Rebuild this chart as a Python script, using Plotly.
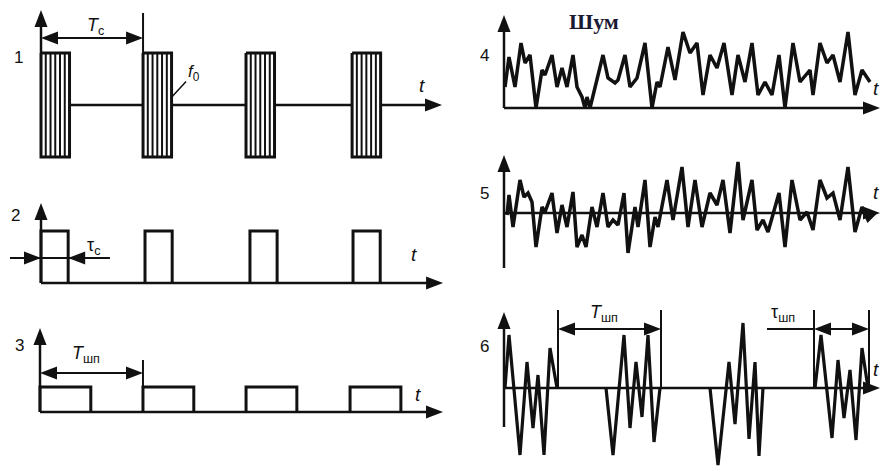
import plotly.graph_objects as go

W, H = 886, 466

# ---------------- data ----------------
# Panel 1: radio pulses with carrier f0 (time in units of T_c)
carrier_start = [0.0, 0.984, 1.977, 3.0]
carrier_width = 0.275
carrier_amp = 1.0
carrier_stripes = 6
# Panel 2: video pulses (width tau_c)
video_start = [0.0, 1.003, 2.015, 3.009]
video_width = 0.262
video_amp = 1.0
# Panel 3: gating pulses of the jammer (period T_шп)
gate_start = [0.0, 0.993, 1.987, 2.99]
gate_width = 0.49
gate_amp = 0.48

# Panel 4: noise envelope (time, amplitude)
noise4_t = [1, 5, 11, 17, 21, 26, 32, 38, 41, 48, 53, 58, 63, 69, 73, 78, 81, 83, 86, 99,
            104, 111, 114, 121, 126, 133, 141, 148, 153, 156, 164, 171, 179, 186, 193, 199, 206, 213, 220, 228,
            234, 241, 248, 254, 261, 268, 275, 281, 289, 296, 306, 309, 316, 323, 329, 336, 344, 351, 358, 366]
noise4_a = [2.1, 5.1, 2.1, 6.5, 4.5, 5.3, 0, 3.8, 3.3, 5.3, 2.1, 4.0, 2.1, 5.3, 2.1, 1.1, 0, 1.1, 0, 5.3,
            3.0, 2.5, 2.8, 5.3, 2.1, 3.0, 6.5, 0, 2.6, 2.1, 6.1, 2.8, 7.6, 5.5, 6.5, 1.3, 5.3, 4.0, 6.5, 1.3,
            5.3, 2.6, 6.5, 1.3, 2.6, 1.3, 5.3, 0, 6.5, 2.6, 3.8, 1.3, 6.5, 4.5, 5.3, 2.6, 7.6, 1.3, 3.8, 2.6]
# Panel 5: noise voltage
noise5_t = [3, 5, 9, 16, 20, 24, 28, 32, 38, 41, 48, 53, 58, 63, 69, 73, 78, 82, 88, 93,
            99, 104, 109, 114, 120, 124, 131, 134, 141, 146, 151, 154, 163, 169, 178, 184, 191, 198, 206, 213,
            219, 226, 234, 239, 248, 253, 259, 264, 275, 281, 288, 296, 303, 309, 316, 323, 329, 336, 344, 351,
            358, 364, 371]
noise5_a = [-0.2, 1.8, -1.4, 3.3, 1.6, 2.0, 1.1, -3.4, 0.6, 0.1, 2.0, -2.0, 0.8, -1.4, 2.1, -3.4, -2.2, -3.4, 0.6, -1.4,
            2.0, -1.4, -0.7, -1.2, 2.0, -4.0, 0.6, -1.4, 3.3, -3.4, -0.4, -1.4, 3.3, -0.7, 4.6, -1.4, 3.3, -1.4, 2.0, 0.8,
            3.3, -2.0, 5.1, -0.7, 3.3, -1.7, -0.7, -1.9, 2.0, -3.4, 3.3, -0.7, 0.1, -1.7, 3.3, 1.5, 2.0, -0.7, 4.6, -1.9,
            0.6, -0.7, 0]
# Panel 6: gated noise bursts
burst_t = [[1, 5, 16, 23, 29, 34, 40, 46, 53],
           [102, 109, 120, 126, 132, 138, 144, 150, 156],
           [206, 214, 225, 231, 239, 245, 251, 255, 259],
           [311, 317, 328, 334, 340, 346, 352, 358, 364]]
burst_a = [[0, 5.3, -6.7, 2.6, -4.0, 1.3, -6.7, 4.0, 0],
           [0, -6.7, 5.3, -4.0, 2.6, -2.9, 5.3, -5.4, 0],
           [0, -7.7, 2.6, -3.6, 6.5, -5.1, 2.6, -6.8, 0],
           [0, 5.3, -5.0, 2.8, -3.0, 1.8, -5.2, 4.0, 0]]

# ---------------- figure ----------------
fig = go.Figure()
shapes = []
annotations = []
BLACK = "#111111"


def ax_names(i):
    return ("x" if i == 1 else f"x{i}"), ("y" if i == 1 else f"y{i}")


def panel(i, box, origin, sx, sy):
    x0, y0, x1, y1 = box
    ox, oy = origin
    xk = "xaxis" if i == 1 else f"xaxis{i}"
    yk = "yaxis" if i == 1 else f"yaxis{i}"
    xa, ya = ax_names(i)
    fig.layout[xk] = dict(domain=[x0 / W, x1 / W], range=[(x0 - ox) / sx, (x1 - ox) / sx],
                          visible=False, anchor=ya, fixedrange=True)
    fig.layout[yk] = dict(domain=[1 - y1 / H, 1 - y0 / H], range=[(oy - y1) / sy, (oy - y0) / sy],
                          visible=False, anchor=xa, fixedrange=True)


def line(i, xs, ys, w=2.5):
    xa, ya = ax_names(i)
    fig.add_trace(go.Scatter(x=xs, y=ys, xaxis=xa, yaxis=ya, mode="lines",
                             line=dict(color=BLACK, width=w), hoverinfo="skip", showlegend=False))


def head(i, x, y, d, L=17, Wd=13):
    xa, ya = ax_names(i)
    if d == "right":
        p = f"M0,0 L{-L},{Wd/2} L{-L},{-Wd/2} Z"
    elif d == "left":
        p = f"M0,0 L{L},{Wd/2} L{L},{-Wd/2} Z"
    else:  # up
        p = f"M0,0 L{-Wd/2},{-L} L{Wd/2},{-L} Z"
    shapes.append(dict(type="path", xref=xa, yref=ya, xsizemode="pixel", ysizemode="pixel",
                       xanchor=x, yanchor=y, path=p, fillcolor=BLACK, line=dict(width=0)))


def text(s, px, py, size=17, family="Liberation Sans", color=BLACK):
    annotations.append(dict(text=s, x=px / W, y=1 - py / H, xref="paper", yref="paper",
                            showarrow=False, xanchor="center", yanchor="middle",
                            font=dict(size=size, family=family, color=color)))


LEFT_SX = 103.7
panel(1, (0, 0, 460, 180), (41, 105), LEFT_SX, 52)
panel(2, (0, 180, 460, 300), (41, 283), LEFT_SX, 52)
panel(3, (0, 300, 460, 466), (40, 412), LEFT_SX, 52)
panel(4, (470, 0, 886, 125), (504, 108), 1, 10)
panel(5, (470, 125, 886, 280), (504, 213), 1, 10)
panel(6, (470, 280, 886, 466), (504, 388), 1, 10)

# ---- panel 1 ----
t_tip1 = 3.867
xs, ys = [], []
prev_end = None
for s in carrier_start:
    if prev_end is not None:
        xs += [prev_end, s, None]; ys += [0, 0, None]
    prev_end = s + carrier_width
xs += [prev_end, t_tip1 - 0.05, None]; ys += [0, 0, None]
line(1, xs, ys, 2.5)
head(1, t_tip1, 0, "right")
# pulses outlines + carrier stripes
xs, ys = [], []
for s in carrier_start:
    e = s + carrier_width
    xs += [s, e, e, s, s, None]
    ys += [carrier_amp, carrier_amp, -carrier_amp, -carrier_amp, carrier_amp, None]
line(1, xs, ys, 3)
xs, ys = [], []
for s in carrier_start:
    for k in range(1, carrier_stripes):
        xk = s + carrier_width * k / carrier_stripes
        xs += [xk, xk, None]; ys += [carrier_amp, -carrier_amp, None]
line(1, xs, ys, 2)
# y axis
line(1, [0, 0], [carrier_amp, 1.7], 2.5)
head(1, 0, 1.827, "up")
# T_c dimension
line(1, [carrier_start[1], carrier_start[1]], [carrier_amp, 1.77], 2)
line(1, [0.05, carrier_start[1] - 0.05], [1.288, 1.288], 2)
head(1, 0, 1.288, "left")
head(1, carrier_start[1], 1.288, "right")
# f0 leader
annotations.append(dict(text="<i>f</i><sub>0</sub>", x=carrier_start[1] + carrier_width, y=0.15,
                        xref="x", yref="y", ax=22, ay=-24, showarrow=True, arrowhead=0,
                        arrowwidth=1.5, arrowcolor=BLACK, standoff=0,
                        font=dict(size=17, family="Liberation Sans", color=BLACK)))

# ---- panel 2 ----
t_tip2 = 3.877
line(2, [0, t_tip2 - 0.05], [0, 0], 2.5)
head(2, t_tip2, 0, "right")
xs, ys = [], []
for s in video_start:
    e = s + video_width
    xs += [s, s, e, e, None]; ys += [0, video_amp, video_amp, 0, None]
line(2, xs, ys, 3)
line(2, [0, 0], [0, 1.45], 2.5)
head(2, 0, 1.538, "up")
# tau_c
line(2, [-0.299, 0.665], [0.481, 0.481], 2)
head(2, 0, 0.481, "right")
head(2, video_width, 0.481, "left")

# ---- panel 3 ----
t_tip3 = 3.886
line(3, [0, t_tip3 - 0.05], [0, 0], 2.5)
head(3, t_tip3, 0, "right")
xs, ys = [], []
for s in gate_start:
    e = s + gate_width
    xs += [s, s, e, e, None]; ys += [0, gate_amp, gate_amp, 0, None]
line(3, xs, ys, 3)
line(3, [0, 0], [0, 1.52], 2.5)
head(3, 0, 1.615, "up")
line(3, [gate_start[1], gate_start[1]], [gate_amp, 1.0], 2)
line(3, [0.05, gate_start[1] - 0.05], [0.75, 0.75], 2)
head(3, 0, 0.75, "left")
head(3, gate_start[1], 0.75, "right")

# ---- panel 4 ----
line(4, [0, 370], [0, 0], 2.5)
head(4, 376, 0, "right")
line(4, [0, 0], [0, 8.5], 2.5)
head(4, 0, 9.3, "up")
line(4, noise4_t, noise4_a, 3.5)

# ---- panel 5 ----
line(5, [0, 370], [0, 0], 2.5)
head(5, 376, 0, "right")
line(5, [0, 0], [-5.5, 5.0], 2.5)
head(5, 0, 5.8, "up")
line(5, noise5_t, noise5_a, 3.5)

# ---- panel 6 ----
line(6, [0, 370], [0, 0], 2.5)
head(6, 376, 0, "right")
line(6, [0, 0], [-3.9, 6.8], 2.5)
head(6, 0, 7.6, "up")
xs, ys = [], []
for bt, ba in zip(burst_t, burst_a):
    xs += bt + [None]; ys += ba + [None]
line(6, xs, ys, 3.2)
# T_шп dimension: end of burst 1 -> end of burst 2
t1, t2 = burst_t[0][-1] + 1, burst_t[1][-1] + 1
line(6, [t1, t1, None, t2, t2], [0, 7.8, None, 0, 7.8], 2)
line(6, [t1 + 5, t2 - 5], [5.9, 5.9], 2)
head(6, t1, 5.9, "left")
head(6, t2, 5.9, "right")
# tau_шп dimension: burst 4
t3, t4 = burst_t[3][0] - 1, burst_t[3][-1] + 1
line(6, [t3, t3, None, t4, t4], [0, 7.8, None, 0, 7.8], 2)
line(6, [263, t3, None, t3 + 5, t4 - 5], [5.9, 5.9, None, 5.9, 5.9], 2)
head(6, t3, 5.9, "left")
head(6, t4, 5.9, "right")

# ---------------- text ----------------
text("1", 18, 57)
text("2", 15, 215)
text("3", 19, 345)
text("4", 484, 55)
text("5", 484, 193)
text("6", 484, 346)
text("<i>T</i><sub>c</sub>", 95, 26, 18)
text("τ<sub>c</sub>", 93, 246, 18)
text("<i>T</i><sub>шп</sub>", 86, 354, 18)
text("<i>T</i><sub>шп</sub>", 604, 313, 18)
text("τ<sub>шп</sub>", 783, 313, 18)
for (px, py) in [(422, 85), (414, 255), (418, 394), (876, 88), (876, 192), (876, 369)]:
    text("<i>t</i>", px, py, 19)
text("<b>Шум</b>", 594, 22, 22, "Liberation Serif", "#1a1a33")

fig.update_layout(width=W, height=H, margin=dict(l=0, r=0, t=0, b=0),
                  paper_bgcolor="white", plot_bgcolor="rgba(0,0,0,0)",
                  shapes=shapes, annotations=annotations, showlegend=False)

fig.write_html("out.html", config={"displayModeBar": False},
               post_script="document.body.style.margin='0';document.body.style.overflow='hidden';")
